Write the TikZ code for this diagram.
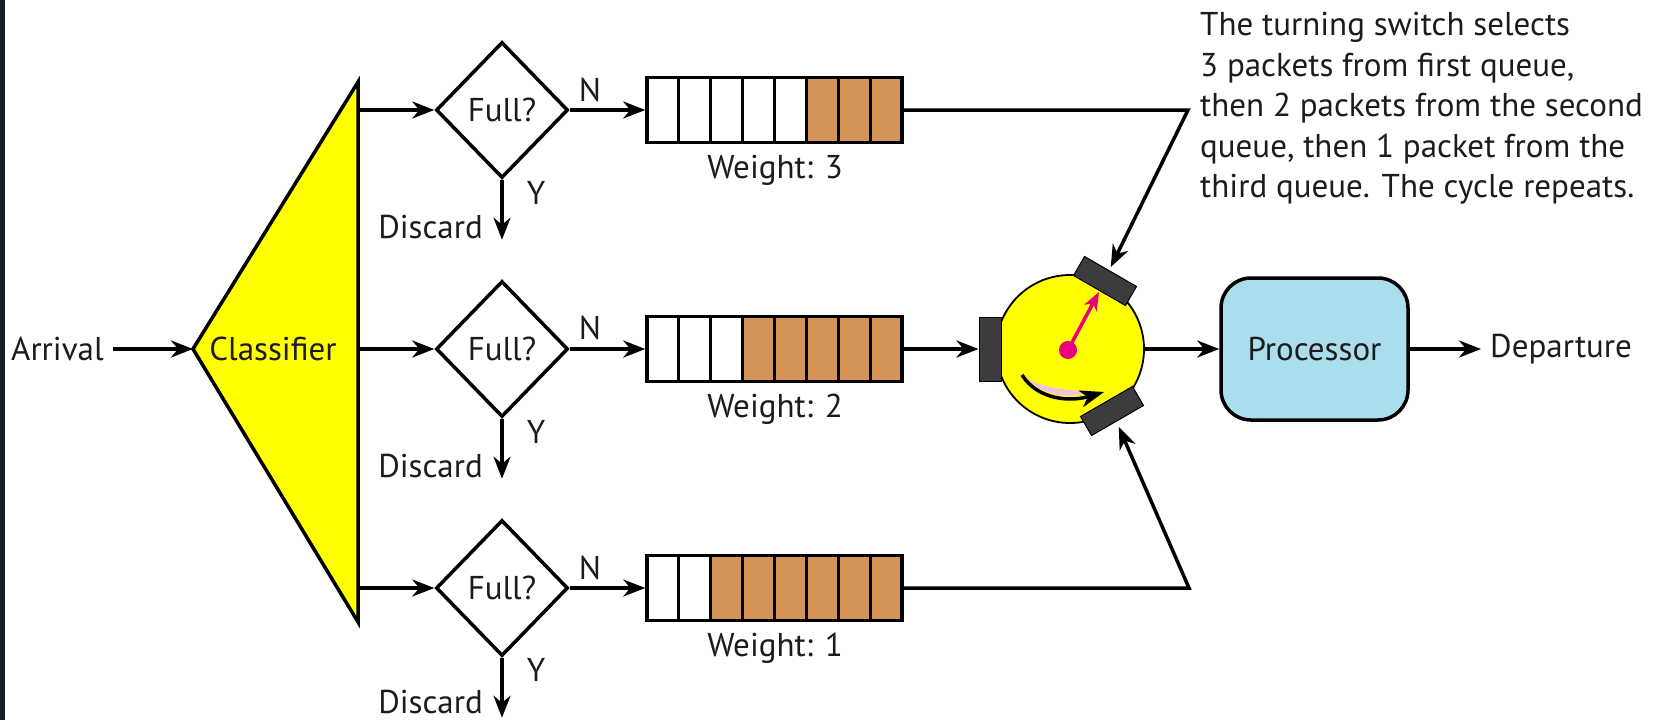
\documentclass[tikz,border=0pt]{standalone}
\usepackage{fontspec}
\setmainfont{PT Sans}
\usetikzlibrary{arrows.meta,shapes.geometric}
\definecolor{txt}{RGB}{28,28,28}
\definecolor{ylw}{RGB}{255,255,0}
\definecolor{brn}{RGB}{212,148,88}
\definecolor{procblue}{RGB}{170,222,236}
\definecolor{portc}{RGB}{60,60,62}
\definecolor{needle}{RGB}{232,0,126}
\definecolor{crescent}{RGB}{240,195,228}
\definecolor{strip}{RGB}{24,29,34}
\begin{document}
\begin{tikzpicture}[x=1pt,y=-1pt,
  every node/.style={text=txt, font=\fontsize{33}{40.5}\selectfont, inner sep=0pt},
  line/.style={line width=3.5pt, draw=black},
  arr/.style={line, -{Stealth[length=22pt,width=17pt,inset=7pt]}},
  dia/.style={shape=diamond, draw, line width=3.5pt, minimum width=132pt, minimum height=136pt, inner sep=0pt},
  queuebox/.style={draw, line width=3.5pt, minimum width=255pt, minimum height=65pt, inner sep=0pt},
  portbox/.style={fill=portc, draw=black, line width=1pt, minimum width=60pt, minimum height=22pt, inner sep=0pt},
]
\fill[white] (0,0) rectangle (1669,720);
\fill[strip] (0,0) rectangle (5,720);
\useasboundingbox (0,0) rectangle (1669,720);

% classifier triangle
\coordinate (apex) at (193,349);
\coordinate (t1) at (358,110);
\coordinate (t2) at (358,349);
\coordinate (t3) at (358,588);
\draw[line width=3.5pt, fill=ylw, line join=miter] (apex) -- (358,82) -- (358,622) -- cycle;
\node (cls) at (273,349) {Classifier};

% arrival
\node[anchor=west] (arrv) at (11,349) {Arrival};
\draw[arr] ([xshift=9pt]arrv.east) -- (apex);

% queues fill
\foreach \i in {5,6,7} \fill[brn] (647+\i*31.875,77.5) rectangle ++(31.875,65);
\foreach \i in {3,...,7} \fill[brn] (647+\i*31.875,316.5) rectangle ++(31.875,65);
\foreach \i in {2,...,7} \fill[brn] (647+\i*31.875,555.5) rectangle ++(31.875,65);
\foreach \y in {77.5,316.5,555.5}
  \foreach \i in {1,...,7} \draw[line width=3pt] (647+\i*31.875,\y) -- ++(0,65);

\node[queuebox] (q1) at (774.5,110) {};
\node[queuebox] (q2) at (774.5,349) {};
\node[queuebox] (q3) at (774.5,588) {};
\node (w1) at (775,170) {Weight: 3};
\node (w2) at (775,409) {Weight: 2};
\node (w3) at (775,648) {Weight: 1};

% diamonds
\node[dia] (d1) at (502,110) {Full?};
\node[dia] (d2) at (502,349) {Full?};
\node[dia] (d3) at (502,588) {Full?};
\foreach \k in {1,2,3} {
  \draw[arr] (t\k) -- (d\k.west);
  \draw[arr] (d\k.east) -- (q\k.west);
  \coordinate (dc\k) at ([yshift=-60pt]d\k.south);
  \draw[arr] (d\k.south) -- (dc\k);
}
\node (n1) at (590,90) {N};
\node (n2) at (590,328) {N};
\node (n3) at (590,568) {N};
\node (y1) at (536,193) {Y};
\node (y2) at (536,432) {Y};
\node (y3) at (536,670) {Y};
\node[anchor=east] (x1) at (483,227) {Discard};
\node[anchor=east] (x2) at (483,466) {Discard};
\node[anchor=east] (x3) at (483,702) {Discard};

% switch
\node[circle, draw, line width=1.8pt, fill=ylw, minimum size=148pt] (sw) at (1070,349) {};
\fill[crescent] (1028,379) .. controls (1045,398) and (1072,399) .. (1094,391) .. controls (1070,391) and (1046,389) .. cycle;
\draw[line width=3.5pt, -{Stealth[length=24pt,width=17pt,inset=7pt]}] (1022,375) .. controls (1038,400) and (1070,402) .. (1104,392);
\node[portbox, minimum width=64pt, rotate=90] (lport) at (990,349) {};
\node[portbox, rotate=-30] (tport) at (1105,281) {};
\node[portbox, rotate=30] (bport) at (1112,411) {};
\node[circle, fill=needle, minimum size=18pt] (hub) at (1068,350) {};
\coordinate (ntip) at (1099,292);
\draw[line width=3.5pt, draw=needle, -{Stealth[length=18pt,width=14pt,inset=5pt]}] (hub.center) -- (ntip);

% queue to switch
\coordinate (b1) at (1188,110);
\coordinate (b3) at (1189,588);
\draw[arr, line join=miter] (q1.east) -- (b1) -- ([yshift=4pt]tport.north);
\draw[arr] (q2.east) -- (lport.north);
\draw[arr, line join=miter] (q3.east) -- (b3) -- ([yshift=-6pt,xshift=1pt]bport.south);

% processor
\node[draw, line width=3.5pt, fill=procblue, rounded corners=30pt, minimum width=187pt, minimum height=142pt] (proc) at (1314.5,349) {Processor};
\draw[arr] (sw.east) -- (proc.west);
\node[anchor=west] (dep) at (1490,349) {Departure};
\draw[arr] (proc.east) -- ([xshift=-9pt]dep.west);

% note
\node[anchor=north west, align=left] (note) at (1200,12) {The turning switch selects\\3 packets from first queue,\\then 2 packets from the second\\queue, then 1 packet from the\\third queue. The cycle repeats.};
\end{tikzpicture}
\end{document}
